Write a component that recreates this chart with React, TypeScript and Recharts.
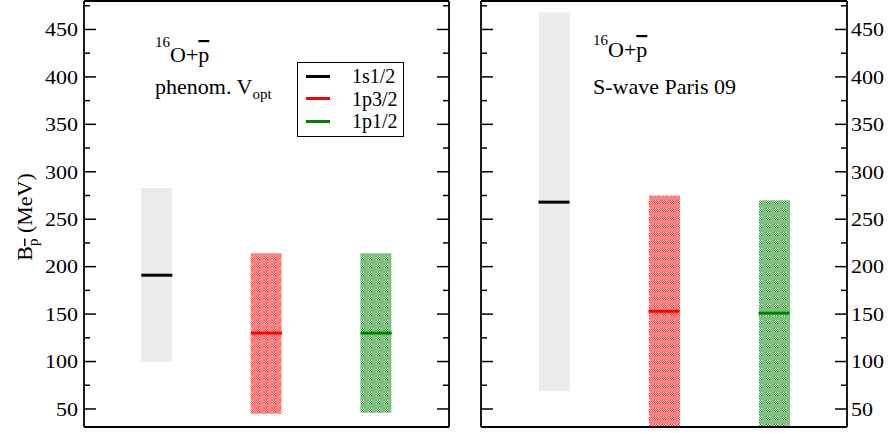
import React from 'react';
import { ComposedChart, Bar, Scatter, XAxis, YAxis, Cell, Legend, ReferenceLine } from 'recharts';

const states = ['1s1/2', '1p3/2', '1p1/2'];
const stateColors = ['#000000', '#ff0000', '#008000'];

// left panel: phenomenological optical potential (MeV)
const phenomLow = [100, 45, 46];
const phenomHigh = [283, 214, 214];
const phenomLevel = [191, 130, 130];

// right panel: S-wave Paris 09 (MeV)
const parisLow = [69, 20, 20];
const parisHigh = [468, 275, 270];
const parisLevel = [268, 153, 151];

const majorTicks = [50, 100, 150, 200, 250, 300, 350, 400, 450];
const minorTicks = [75, 125, 175, 225, 275, 325, 375, 425, 475];
const allTicks = [...majorTicks, ...minorTicks].sort((a, b) => a - b);
const yDomain = [31, 480];

const FONT = '"Liberation Serif", Tinos, "Times New Roman", Times, "Nimbus Roman", FreeSerif, "Noto Serif", "DejaVu Serif", serif';

const buildData = (low: number[], high: number[], level: number[]) =>
    states.map((name, i) => ({ name, range: [low[i], high[i]], level: level[i] }));

const phenomData = buildData(phenomLow, phenomHigh, phenomLevel);
const parisData = buildData(parisLow, parisHigh, parisLevel);

const patternStyles = [
    { base: '#ececec', dark: '#e2e2e2', light: '#f7f7f7' },
    { base: '#ff8080', dark: '#ff2020', light: '#ffffff' },
    { base: '#80c080', dark: '#109010', light: '#ffffff' },
];

const Patterns = ({ prefix }: { prefix: string }) => (
    <defs>
        {patternStyles.map((p, k) => (
            <pattern key={k} id={`${prefix}-fill-${k}`} width={8} height={8} patternUnits="userSpaceOnUse">
                <rect width={8} height={8} fill={p.base} />
                {[0, 1, 2, 3].map((i) =>
                    [0, 1, 2, 3].map((j) => (
                        <rect key={`${i}-${j}`} x={i} y={j} width={1} height={1} fill={(i + j) % 2 === 0 ? p.dark : p.light} />
                    ))
                )}
            </pattern>
        ))}
    </defs>
);

// inward ticks drawn by hand, labels optional
const makeTick = (side: 'left' | 'right', margin: number, labels: boolean) => (props: any) => {
    const { x, y, payload } = props;
    const v = payload.value;
    const major = majorTicks.includes(v);
    const len = major ? 12 : 6;
    const axisX = side === 'left' ? x + margin : x - margin;
    const x2 = side === 'left' ? axisX + len : axisX - len;
    const txt = String(v);
    return (
        <g>
            <line x1={axisX} x2={x2} y1={y} y2={y} stroke="#000" strokeWidth={1.5} />
            {labels && major && (
                <text
                    x={x}
                    y={y}
                    dy="0.36em"
                    textAnchor={side === 'left' ? 'end' : 'start'}
                    fontFamily={FONT}
                    fontSize={19}
                    fill="#000"
                    textLength={txt.length * 11}
                    lengthAdjust="spacingAndGlyphs"
                >
                    {txt}
                </text>
            )}
        </g>
    );
};

const LevelMark = (props: any) => {
    const { cx, cy, payload } = props;
    const c = stateColors[states.indexOf(payload.name)];
    return <line x1={cx - 15.5} x2={cx + 15.5} y1={cy} y2={cy} stroke={c} strokeWidth={3} />;
};

const LegendBox = () => (
    <div
        style={{
            width: 107,
            height: 75,
            boxSizing: 'border-box',
            border: '1px solid #000',
            background: '#fff',
            position: 'relative',
            fontFamily: FONT,
            fontSize: 20,
            color: '#000',
        }}
    >
        {states.map((s, i) => (
            <div
                key={s}
                style={{ position: 'absolute', left: 0, top: 2 + i * 22.5, height: 22, lineHeight: '22px', display: 'flex', alignItems: 'center' }}
            >
                <span style={{ display: 'inline-block', width: 24, height: 3, background: stateColors[i], marginLeft: 8 }} />
                <span style={{ marginLeft: 22 }}>{s}</span>
            </div>
        ))}
    </div>
);

const frame = { stroke: '#000', strokeWidth: 1.8 };

const Panel = ({ data, prefix, leftWidth, rightWidth, leftLabels, rightLabels, width, legend }: any) => (
    <ComposedChart width={width} height={433} data={data} margin={{ top: 1, right: 0, bottom: 6, left: 0 }}>
        <Patterns prefix={prefix} />
        <XAxis dataKey="name" xAxisId="b" hide padding={{ left: 18, right: 18 }} />
        <YAxis
            yAxisId="L"
            orientation="left"
            width={leftWidth}
            type="number"
            domain={yDomain}
            allowDataOverflow
            ticks={allTicks}
            interval={0}
            tickSize={0}
            tickMargin={6}
            tickLine={false}
            axisLine={frame}
            tick={makeTick('left', 6, leftLabels)}
        />
        <YAxis
            yAxisId="R"
            orientation="right"
            width={rightWidth}
            type="number"
            domain={yDomain}
            allowDataOverflow
            ticks={allTicks}
            interval={0}
            tickSize={0}
            tickMargin={4}
            tickLine={false}
            axisLine={frame}
            tick={makeTick('right', 4, rightLabels)}
        />
        <Bar dataKey="range" xAxisId="b" yAxisId="L" barSize={31} isAnimationActive={false}>
            {data.map((_: any, i: number) => (
                <Cell key={`c-${i}`} fill={`url(#${prefix}-fill-${i})`} />
            ))}
        </Bar>
        <Scatter dataKey="level" xAxisId="b" yAxisId="L" shape={LevelMark} isAnimationActive={false} />
        <ReferenceLine xAxisId="b" yAxisId="L" y={yDomain[1]} stroke="#000" strokeWidth={1.8} ifOverflow="visible" />
        <ReferenceLine xAxisId="b" yAxisId="L" y={yDomain[0]} stroke="#000" strokeWidth={1.8} ifOverflow="visible" />
        {legend && (
            <Legend
                layout="vertical"
                align="center"
                verticalAlign="middle"
                content={() => <LegendBox />}
                wrapperStyle={{ position: 'absolute', left: 297, top: 62, width: 107, height: 75 }}
            />
        )}
    </ComposedChart>
);

const Pbar = () => <tspan style={{ textDecoration: 'overline' }}>p</tspan>;

const App = () => {
    return (
        <div style={{ position: 'absolute', left: 0, top: 0, width: 889, height: 433, background: '#fff' }}>
            <div style={{ position: 'absolute', left: 0, top: 0 }}>
                <Panel data={phenomData} prefix="ph" width={460} leftWidth={84} rightWidth={11} leftLabels rightLabels={false} legend />
            </div>
            <div style={{ position: 'absolute', left: 470, top: 0 }}>
                <Panel data={parisData} prefix="pa" width={419} leftWidth={11} rightWidth={42} leftLabels={false} rightLabels legend={false} />
            </div>
            <svg width={889} height={433} style={{ position: 'absolute', left: 0, top: 0, pointerEvents: 'none' }} fontFamily={FONT} fill="#000">
                <text x={155} y={46.5} fontSize={15}>16</text>
                <text x={170} y={62} fontSize={22}>O+<Pbar /></text>
                <text x={155} y={94} fontSize={22}>phenom. V<tspan fontSize={15} dy={5}>opt</tspan></text>

                <text x={593} y={45} fontSize={15}>16</text>
                <text x={608} y={57} fontSize={22}>O+<Pbar /></text>
                <text x={593} y={94} fontSize={22}>S-wave Paris 09</text>

                <text transform="translate(32,217) rotate(-90)" textAnchor="middle" fontSize={22}>
                    B<tspan fontSize={15} dy={6} style={{ textDecoration: 'overline' }}>p</tspan>
                    <tspan dy={-6}> (MeV)</tspan>
                </text>
            </svg>
        </div>
    );
};

export default App;
